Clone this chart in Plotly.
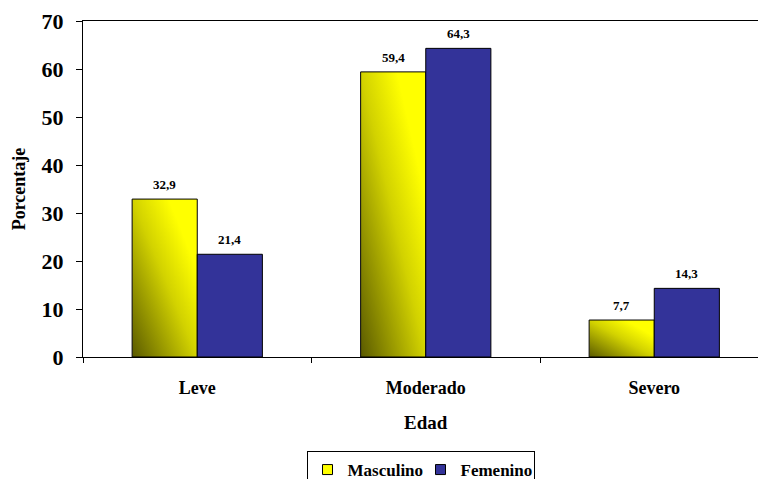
import base64
import plotly.graph_objects as go

# Severity categories and percentage per sex
categories = ["Leve", "Moderado", "Severo"]
masculino = [32.9, 59.4, 7.7]
femenino = [21.4, 64.3, 14.3]
y_ticks = [0, 10, 20, 30, 40, 50, 60, 70]

FONT = "Liberation Serif, Times New Roman, Times, serif"
BLUE = "#333399"
BARGAP = 0.43
half = (1 - BARGAP) / 2  # width of a single bar in category units

# Diagonal olive-to-yellow gradient used to fill the male bars
svg = (
    '<svg xmlns="http://www.w3.org/2000/svg" width="100" height="100" '
    'viewBox="0 0 100 100" preserveAspectRatio="none">'
    '<defs><linearGradient id="g" x1="0" y1="1" x2="1" y2="0">'
    '<stop offset="0" stop-color="#5a5a00"/>'
    '<stop offset="0.5" stop-color="#d2d200"/>'
    '<stop offset="0.78" stop-color="#ffff00"/>'
    '<stop offset="1" stop-color="#ffff00"/>'
    '</linearGradient></defs>'
    '<rect width="100" height="100" fill="url(#g)"/></svg>'
)
grad_src = "data:image/svg+xml;base64," + base64.b64encode(svg.encode()).decode()

fig = go.Figure()

# Male bars: transparent fill with outline, gradient image placed underneath
fig.add_trace(go.Bar(
    x=categories, y=masculino, name="Masculino", showlegend=False,
    marker=dict(color="rgba(0,0,0,0)", line=dict(color="black", width=1)),
))
fig.add_trace(go.Bar(
    x=categories, y=femenino, name="Femenino", showlegend=False,
    marker=dict(color=BLUE, line=dict(color="black", width=1)),
))

# Legend entries
fig.add_trace(go.Scatter(
    x=[None], y=[None], mode="markers", name="Masculino",
    marker=dict(symbol="square", size=10, color="#ffff00",
                line=dict(color="black", width=1)),
))
fig.add_trace(go.Scatter(
    x=[None], y=[None], mode="markers", name="Femenino",
    marker=dict(symbol="square", size=10, color=BLUE,
                line=dict(color="black", width=1)),
))

images = []
for i, v in enumerate(masculino):
    images.append(dict(
        source=grad_src, xref="x", yref="y",
        x=i - half, y=v, sizex=half, sizey=v,
        xanchor="left", yanchor="top", sizing="stretch", layer="below",
    ))

annotations = []
for i, (m, f) in enumerate(zip(masculino, femenino)):
    for xpos, v in ((i - half / 2, m), (i + half / 2, f)):
        annotations.append(dict(
            x=xpos, y=v, xref="x", yref="y",
            text="<b>" + f"{v:.1f}".replace(".", ",") + "</b>",
            showarrow=False, yanchor="bottom", yshift=5,
            font=dict(family=FONT, size=13, color="black"),
        ))

# x-axis title centred under the middle category
annotations.append(dict(
    x=1, y=-0.158, xref="x", yref="paper", yanchor="top",
    text="<b>Edad</b>", showarrow=False,
    font=dict(family=FONT, size=19, color="black"),
))

fig.update_layout(
    width=758, height=479,
    margin=dict(l=83, r=0, t=21, b=122),
    paper_bgcolor="white", plot_bgcolor="rgba(0,0,0,0)",
    font=dict(family=FONT, color="black"),
    barmode="group", bargap=BARGAP, bargroupgap=0,
    images=images, annotations=annotations,
    showlegend=True,
    legend=dict(
        orientation="h", x=0.5, xanchor="center",
        yref="container", y=28 / 479, yanchor="top",
        bordercolor="black", borderwidth=1, bgcolor="white",
        font=dict(family=FONT, size=17, color="black", weight="bold"),
        itemwidth=30, tracegroupgap=0, entrywidth=68,
    ),
    xaxis=dict(
        range=[-0.5, 2.454], type="category",
        showline=True, linecolor="black", linewidth=1, mirror=True,
        ticks="outside", tickson="boundaries", ticklen=5, tickcolor="black",
        showgrid=False, zeroline=False, ticklabelstandoff=14,
        tickfont=dict(family=FONT, size=18, color="black", weight="bold"),
    ),
    yaxis=dict(
        range=[0, 70], tickvals=y_ticks,
        showline=True, linecolor="black", linewidth=1,
        ticks="outside", ticklen=6, tickcolor="black",
        showgrid=False, zeroline=False, ticklabelstandoff=8,
        tickfont=dict(family=FONT, size=22, color="black", weight="bold"),
        title=dict(text="<b>Porcentaje</b>", standoff=11,
                   font=dict(family=FONT, size=18, color="black")),
    ),
)

fig.write_html("out.html")
